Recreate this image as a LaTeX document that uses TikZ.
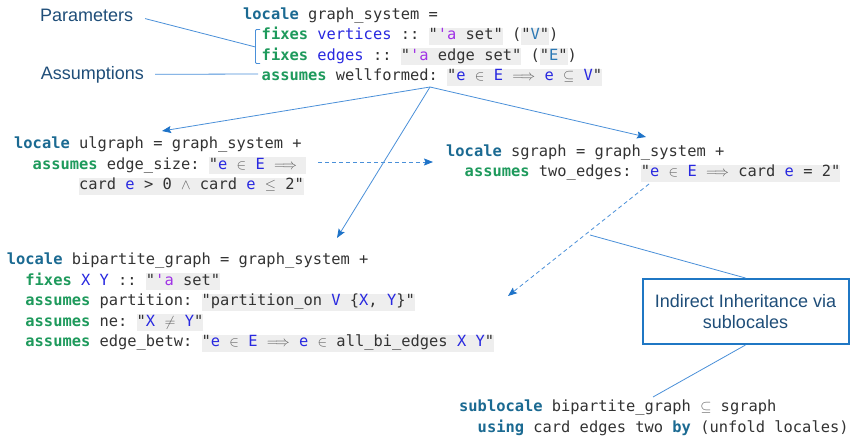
\documentclass[tikz,border=0pt]{standalone}
\usepackage{fontspec}
\setmainfont{Liberation Sans}
\setmonofont{DejaVu Sans Mono}
\usepackage{xcolor}
\usetikzlibrary{positioning,arrows.meta}

\definecolor{kwteal}{HTML}{1B6A92}
\definecolor{kwgreen}{HTML}{1E9A5C}
\definecolor{varblue}{HTML}{2828E0}
\definecolor{fixblue}{HTML}{2B78B4}
\definecolor{tvpurple}{HTML}{A032E6}
\definecolor{codegray}{HTML}{333333}
\definecolor{symgray}{HTML}{606060}
\definecolor{hlgray}{HTML}{EEEEEE}
\definecolor{linkblue}{HTML}{4A90D9}
\definecolor{tipblue}{HTML}{1E73C8}
\definecolor{lblblue}{HTML}{1F4E79}
\definecolor{boxblue}{HTML}{1F77C4}

\newcommand{\kw}[1]{\textcolor{kwteal}{\bfseries #1}}
\newcommand{\kf}[1]{\textcolor{kwgreen}{\bfseries #1}}
\newcommand{\cv}[1]{\textcolor{varblue}{#1}}
\newcommand{\fv}[1]{\textcolor{fixblue}{#1}}
\newcommand{\tv}{\textcolor{tvpurple}{'a}}
\newcommand{\ms}[1]{\textcolor{symgray}{$#1$}}
\newcommand{\hlbox}[1]{{\setlength{\fboxsep}{0pt}\colorbox{hlgray}{\rule[-5pt]{0pt}{17pt}#1}}}

\begin{document}
\begin{tikzpicture}[x=1pt, y=-1pt,
    code/.style={anchor=north west, inner sep=0, align=left, text=codegray, font=\ttfamily\fontsize{15.4}{20.6}\selectfont},
    lbl/.style={anchor=base west, inner sep=0, text=lblblue, font=\fontsize{18}{21.6}\selectfont},
    callout/.style={draw=boxblue, line width=2pt, fill=white, minimum width=206pt, minimum height=65pt, align=center, text=lblblue, font=\fontsize{18}{21.6}\selectfont},
    link/.style={draw=linkblue, line width=0.8pt},
    arrow/.style={link, -{Stealth[length=9pt, width=7pt, inset=1.5pt, color=tipblue]}},
    dasharrow/.style={arrow, dash pattern=on 4pt off 3pt}
]
\path[use as bounding box, fill=white] (0,0) rectangle (854,436);

% locales
\node[code] (gs) at (243,7) {\rule{0pt}{12pt}\kw{locale} graph\_system =\\
\phantom{xx}\kf{fixes} \cv{vertices} :: \hlbox{"\tv\ set"} (\hlbox{"\fv{V}"})\\
\phantom{xx}\kf{fixes} \cv{edges} :: \hlbox{"\tv\ edge set"} (\hlbox{"\fv{E}"})\\
\phantom{xx}\kf{assumes} wellformed: \hlbox{"\cv{e} \ms{\in} \cv{E} \ms{\Longrightarrow} \cv{e} \ms{\subseteq} \cv{V}"}};
\node[code] (ul) at (14,136.3) {\rule{0pt}{12pt}\kw{locale} ulgraph = graph\_system +\\
\phantom{xx}\kf{assumes} edge\_size: \hlbox{"\cv{e} \ms{\in} \cv{E} \ms{\Longrightarrow}\ }\\
\phantom{xxxxxxx}\hlbox{card \cv{e} > 0 \ms{\wedge} card \cv{e} \ms{\leq} 2"}};
\node[code] (sg) at (446,144) {\rule{0pt}{12pt}\kw{locale} sgraph = graph\_system +\\
\phantom{xx}\kf{assumes} two\_edges: \hlbox{"\cv{e} \ms{\in} \cv{E} \ms{\Longrightarrow} card \cv{e} = 2"}};
\node[code] (bp) at (6.7,252.3) {\rule{0pt}{12pt}\kw{locale} bipartite\_graph = graph\_system +\\
\phantom{xx}\kf{fixes} \cv{X} \cv{Y} :: \hlbox{"\tv\ set"}\\
\phantom{xx}\kf{assumes} partition: \hlbox{"partition\_on \cv{V} \{\cv{X}, \cv{Y}\}"}\\
\phantom{xx}\kf{assumes} ne: \hlbox{"\cv{X} \ms{\neq} \cv{Y}"}\\
\phantom{xx}\kf{assumes} edge\_betw: \hlbox{"\cv{e} \ms{\in} \cv{E} \ms{\Longrightarrow} \cv{e} \ms{\in} all\_bi\_edges \cv{X} \cv{Y}"}};
\node[code] (sl) at (459,399.5) {\rule{0pt}{12pt}\kw{sublocale} bipartite\_graph \ms{\subseteq} sgraph\\
\phantom{xx}\kw{using} card edges two \kw{by} (unfold locales)};

% labels
\node[lbl] (par) at (40,21.7) {Parameters};
\node[lbl] (asm) at (40.7,79) {Assumptions};
\node[callout] (note) at (745.5,311.5) {Indirect Inheritance via\\sublocales};

% free ends
\coordinate (brk) at (255.5,47);
\coordinate (wfl) at (258,74);
\coordinate (wf) at (430,87);
\coordinate (ulTop) at (162,131);
\coordinate (sgTop) at (646,137);
\coordinate (bpTop) at (337,238);
\coordinate (ulR) at (318,162);
\coordinate (sgL) at (433,162);
\coordinate (sgB) at (649,184);
\coordinate (bpR) at (508,296);
\coordinate (co1) at (590,235);
\coordinate (co2) at (653,397);

\draw[link, rounded corners=1pt] (260,29.5) -- (brk |- 0,29.5) -- (brk |- 0,63.5) -- (260,63.5);
\draw[link, shorten <=12pt] (par.east) -- (brk);
\draw[link, shorten <=11pt] (asm.east) -- (wfl);

\draw[arrow] (wf) -- (ulTop);
\draw[arrow] (wf) -- (sgTop);
\draw[arrow] (wf) -- (bpTop);
\draw[dasharrow] (ulR) -- (sgL);
\draw[dasharrow] (sgB) -- (bpR);

\draw[link] (co1) -- (note.north);
\draw[link] (note.south) -- (co2);
\end{tikzpicture}
\end{document}
